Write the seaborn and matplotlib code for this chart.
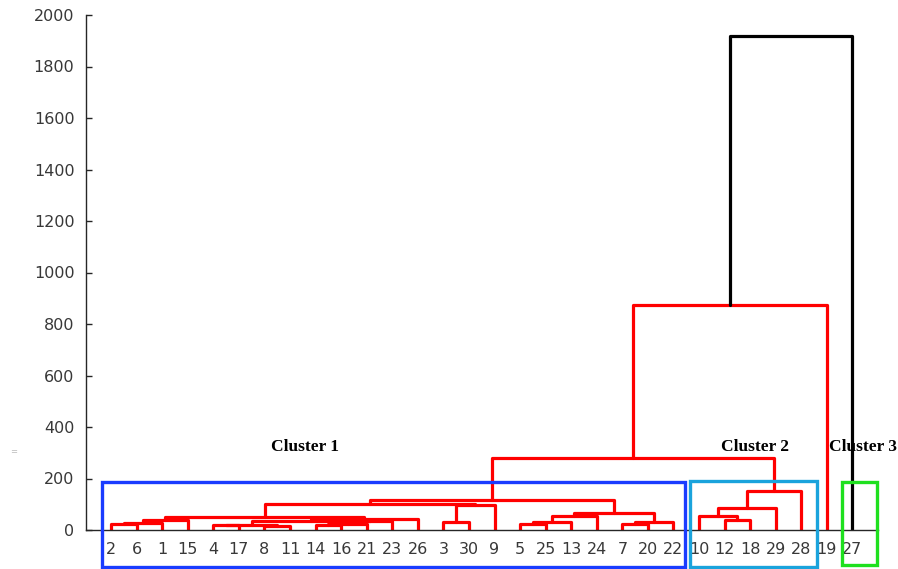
import pandas as pd
import matplotlib
matplotlib.use("Agg")
import matplotlib.pyplot as plt
from matplotlib.patches import Rectangle
import seaborn as sns

# ===================== data =====================
# leaf order along the x axis
leaf_order = [2, 6, 1, 15, 4, 17, 8, 11, 14, 16, 21, 23, 26, 3, 30, 9,
              5, 25, 13, 24, 7, 20, 22, 10, 12, 18, 29, 28, 19, 27]

# merges: (left, right, height); ints are leaves, "nK" is the K-th merge
merges = [
    (2, 6, 22), ("n0", 1, 27), ("n1", 15, 37),
    (4, 17, 20), (8, 11, 16), ("n3", "n4", 21),
    (14, 16, 20), ("n6", 21, 25), ("n7", 23, 35),
    ("n5", "n8", 36), ("n9", 26, 44), ("n2", "n10", 52),
    (3, 30, 31), ("n12", 9, 97), ("n11", "n13", 101),
    (5, 25, 22), ("n15", 13, 30), ("n16", 24, 54),
    (7, 20, 22), ("n18", 22, 31), ("n17", "n19", 65),
    ("n14", "n20", 116),
    (12, 18, 39), (10, "n22", 54), ("n23", 29, 85), ("n24", 28, 150),
    ("n21", "n25", 280), ("n26", 19, 874), ("n27", 27, 1918),
]
color_threshold = 1000

cluster_names = ["Cluster 1", "Cluster 2", "Cluster 3"]
cluster_first = [2, 10, 27]
cluster_last = [22, 28, 27]

# ===================== build link segments =====================
pos = {leaf: i + 1 for i, leaf in enumerate(leaf_order)}
hgt = {leaf: 0.0 for leaf in leaf_order}
rows = []
for i, (a, b, h) in enumerate(merges):
    xa, xb = pos[a], pos[b]
    color = "black" if h > color_threshold else "red"
    for x, y in [(xa, hgt[a]), (xa, h), (xb, h), (xb, hgt[b])]:
        rows.append({"link": i, "x": x, "y": y, "color": color})
    pos[f"n{i}"] = (xa + xb) / 2
    hgt[f"n{i}"] = h
seg = pd.DataFrame(rows)

# ===================== plot =====================
sns.set_style("ticks")
plt.rcParams["font.family"] = ["DejaVu Sans"]

fig = plt.figure(figsize=(8.98, 5.69), dpi=100)
ax = fig.add_axes([85.5 / 898, 39 / 569, 792.5 / 898, 515 / 569])

for c in ["red", "black"]:
    sns.lineplot(data=seg[seg["color"] == c], x="x", y="y", units="link",
                 estimator=None, sort=False, color=c, lw=2.3, ax=ax,
                 legend=False)

ax.set_xlim(0, 31)
ax.set_ylim(0, 2000)
ax.set_xticks(range(1, len(leaf_order) + 1))
ax.set_xticklabels([str(v) for v in leaf_order])
ax.set_yticks(range(0, 2001, 200))
ax.set_xlabel("")
ax.set_ylabel("")
ax.tick_params(axis="x", length=0, pad=9, labelsize=11.5, labelcolor="#383838")
ax.tick_params(axis="y", direction="in", length=4, width=1, pad=8,
               labelsize=11.5, labelcolor="#383838", color="#262626")
sns.despine(ax=ax)
for s in ["left", "bottom"]:
    ax.spines[s].set_color("#262626")
    ax.spines[s].set_linewidth(1)

# cluster boxes and labels
box_colors = ["#1a3cff", "#1aa3dc", "#1ee01e"]
box_pad = [(0.35, 0.47), (0.37, 0.61), (0.41, 0.96)]
box_y = [(-144, 186), (-144, 190), (-136, 186)]
label_xy = [(8.6, 322), (26.2, 322), (30.4, 322)]
for i, name in enumerate(cluster_names):
    x0 = leaf_order.index(cluster_first[i]) + 1 - box_pad[i][0]
    x1 = leaf_order.index(cluster_last[i]) + 1 + box_pad[i][1]
    y0, y1 = box_y[i]
    ax.add_patch(Rectangle((x0, y0), x1 - x0, y1 - y0, fill=False,
                           edgecolor=box_colors[i], lw=2.4, clip_on=False,
                           zorder=5))
    ax.text(label_xy[i][0], label_xy[i][1], name, ha="center", va="center",
            family="Liberation Serif", fontweight="bold", fontsize=12.5,
            color="black")

fig.text(14 / 898, 1 - 452 / 569, "=", fontsize=6, color="#bbbbbb",
         ha="center", va="center")

plt.savefig("out.png", dpi=100)
plt.close()
